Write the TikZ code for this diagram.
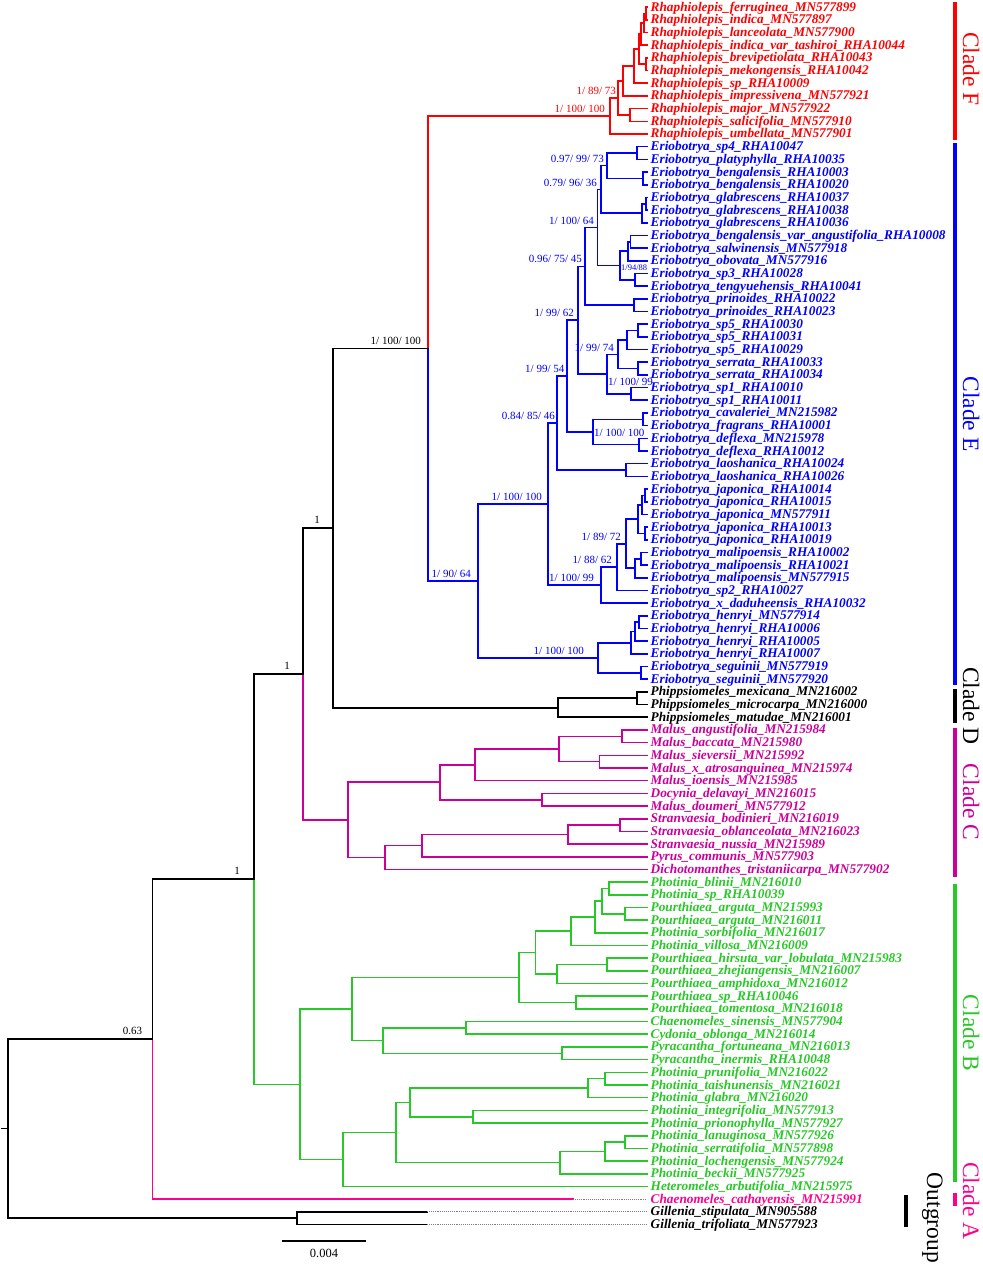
\documentclass[tikz,border=0pt]{standalone}
\usepackage{fontspec}
\setmainfont{Liberation Serif}
\usetikzlibrary{calc}

\definecolor{colF}{RGB}{255,0,0}
\definecolor{colE}{RGB}{0,0,255}
\definecolor{colC}{RGB}{204,0,153}
\definecolor{colB}{RGB}{40,200,40}
\definecolor{colA}{RGB}{255,0,140}

% internal node: name, x, upper child, lower child (y = middle of the children)
\newcommand{\junction}[4]{%
  \coordinate (#1m) at ($(#3)!.5!(#4)$);
  \coordinate (#1) at (#2,0 |- #1m);}
\newcommand{\clade}[5][black]{%
  \junction{#2}{#3}{#4}{#5}
  \draw[branch,#1] (#2) |- (#4);
  \draw[branch,#1] (#2) |- (#5);}

\tikzset{
  branch/.style={line width=1.6pt, line cap=rect},
  dots/.style={densely dotted, line width=0.9pt, gray},
  bar/.style={line width=4.5pt},
  leaf/.style={anchor=west, inner xsep=3.5pt, inner ysep=0pt, text height=10pt, text depth=2pt,
    font=\fontsize{13.3}{14}\selectfont\bfseries\itshape},
  sup/.style={anchor=south east, inner sep=1pt, yshift=2pt, font=\fontsize{11}{12}\selectfont},
  supr/.style={anchor=west, inner sep=1pt, font=\fontsize{11}{12}\selectfont},
  cladelab/.style={rotate=-90, anchor=base, inner sep=0pt, font=\fontsize{23.5}{24}\selectfont}
}

\begin{document}
\begin{tikzpicture}[x=1pt, y=-1pt]
\useasboundingbox (0,0) rectangle (982,1265);

% tips
\node[leaf,text=colF] (t0) at (647,7.20) {Rhaphiolepis\_ferruginea\_MN577899};
\node[leaf,text=colF] (t1) at (647,19.88) {Rhaphiolepis\_indica\_MN577897};
\node[leaf,text=colF] (t2) at (647,32.56) {Rhaphiolepis\_lanceolata\_MN577900};
\node[leaf,text=colF] (t3) at (647,45.24) {Rhaphiolepis\_indica\_var\_tashiroi\_RHA10044};
\node[leaf,text=colF] (t4) at (647,57.92) {Rhaphiolepis\_brevipetiolata\_RHA10043};
\node[leaf,text=colF] (t5) at (647,70.60) {Rhaphiolepis\_mekongensis\_RHA10042};
\node[leaf,text=colF] (t6) at (647,83.28) {Rhaphiolepis\_sp\_RHA10009};
\node[leaf,text=colF] (t7) at (647,95.96) {Rhaphiolepis\_impressivena\_MN577921};
\node[leaf,text=colF] (t8) at (647,108.64) {Rhaphiolepis\_major\_MN577922};
\node[leaf,text=colF] (t9) at (647,121.32) {Rhaphiolepis\_salicifolia\_MN577910};
\node[leaf,text=colF] (t10) at (647,134.00) {Rhaphiolepis\_umbellata\_MN577901};
\node[leaf,text=colE] (t11) at (647,146.68) {Eriobotrya\_sp4\_RHA10047};
\node[leaf,text=colE] (t12) at (647,159.36) {Eriobotrya\_platyphylla\_RHA10035};
\node[leaf,text=colE] (t13) at (647,172.04) {Eriobotrya\_bengalensis\_RHA10003};
\node[leaf,text=colE] (t14) at (647,184.72) {Eriobotrya\_bengalensis\_RHA10020};
\node[leaf,text=colE] (t15) at (647,197.40) {Eriobotrya\_glabrescens\_RHA10037};
\node[leaf,text=colE] (t16) at (647,210.08) {Eriobotrya\_glabrescens\_RHA10038};
\node[leaf,text=colE] (t17) at (647,222.76) {Eriobotrya\_glabrescens\_RHA10036};
\node[leaf,text=colE] (t18) at (647,235.44) {Eriobotrya\_bengalensis\_var\_angustifolia\_RHA10008};
\node[leaf,text=colE] (t19) at (647,248.12) {Eriobotrya\_salwinensis\_MN577918};
\node[leaf,text=colE] (t20) at (647,260.80) {Eriobotrya\_obovata\_MN577916};
\node[leaf,text=colE] (t21) at (647,273.48) {Eriobotrya\_sp3\_RHA10028};
\node[leaf,text=colE] (t22) at (647,286.16) {Eriobotrya\_tengyuehensis\_RHA10041};
\node[leaf,text=colE] (t23) at (647,298.84) {Eriobotrya\_prinoides\_RHA10022};
\node[leaf,text=colE] (t24) at (647,311.52) {Eriobotrya\_prinoides\_RHA10023};
\node[leaf,text=colE] (t25) at (647,324.20) {Eriobotrya\_sp5\_RHA10030};
\node[leaf,text=colE] (t26) at (647,336.88) {Eriobotrya\_sp5\_RHA10031};
\node[leaf,text=colE] (t27) at (647,349.56) {Eriobotrya\_sp5\_RHA10029};
\node[leaf,text=colE] (t28) at (647,362.24) {Eriobotrya\_serrata\_RHA10033};
\node[leaf,text=colE] (t29) at (647,374.92) {Eriobotrya\_serrata\_RHA10034};
\node[leaf,text=colE] (t30) at (647,387.60) {Eriobotrya\_sp1\_RHA10010};
\node[leaf,text=colE] (t31) at (647,400.28) {Eriobotrya\_sp1\_RHA10011};
\node[leaf,text=colE] (t32) at (647,412.96) {Eriobotrya\_cavaleriei\_MN215982};
\node[leaf,text=colE] (t33) at (647,425.64) {Eriobotrya\_fragrans\_RHA10001};
\node[leaf,text=colE] (t34) at (647,438.32) {Eriobotrya\_deflexa\_MN215978};
\node[leaf,text=colE] (t35) at (647,451.00) {Eriobotrya\_deflexa\_RHA10012};
\node[leaf,text=colE] (t36) at (647,463.68) {Eriobotrya\_laoshanica\_RHA10024};
\node[leaf,text=colE] (t37) at (647,476.36) {Eriobotrya\_laoshanica\_RHA10026};
\node[leaf,text=colE] (t38) at (647,489.04) {Eriobotrya\_japonica\_RHA10014};
\node[leaf,text=colE] (t39) at (647,501.72) {Eriobotrya\_japonica\_RHA10015};
\node[leaf,text=colE] (t40) at (647,514.40) {Eriobotrya\_japonica\_MN577911};
\node[leaf,text=colE] (t41) at (647,527.08) {Eriobotrya\_japonica\_RHA10013};
\node[leaf,text=colE] (t42) at (647,539.76) {Eriobotrya\_japonica\_RHA10019};
\node[leaf,text=colE] (t43) at (647,552.44) {Eriobotrya\_malipoensis\_RHA10002};
\node[leaf,text=colE] (t44) at (647,565.12) {Eriobotrya\_malipoensis\_RHA10021};
\node[leaf,text=colE] (t45) at (647,577.80) {Eriobotrya\_malipoensis\_MN577915};
\node[leaf,text=colE] (t46) at (647,590.48) {Eriobotrya\_sp2\_RHA10027};
\node[leaf,text=colE] (t47) at (647,603.16) {Eriobotrya\_x\_daduheensis\_RHA10032};
\node[leaf,text=colE] (t48) at (647,615.84) {Eriobotrya\_henryi\_MN577914};
\node[leaf,text=colE] (t49) at (647,628.52) {Eriobotrya\_henryi\_RHA10006};
\node[leaf,text=colE] (t50) at (647,641.20) {Eriobotrya\_henryi\_RHA10005};
\node[leaf,text=colE] (t51) at (647,653.88) {Eriobotrya\_henryi\_RHA10007};
\node[leaf,text=colE] (t52) at (647,666.56) {Eriobotrya\_seguinii\_MN577919};
\node[leaf,text=colE] (t53) at (647,679.24) {Eriobotrya\_seguinii\_MN577920};
\node[leaf] (t54) at (647,691.92) {Phippsiomeles\_mexicana\_MN216002};
\node[leaf] (t55) at (647,704.60) {Phippsiomeles\_microcarpa\_MN216000};
\node[leaf] (t56) at (647,717.28) {Phippsiomeles\_matudae\_MN216001};
\node[leaf,text=colC] (t57) at (647,729.96) {Malus\_angustifolia\_MN215984};
\node[leaf,text=colC] (t58) at (647,742.64) {Malus\_baccata\_MN215980};
\node[leaf,text=colC] (t59) at (647,755.32) {Malus\_sieversii\_MN215992};
\node[leaf,text=colC] (t60) at (647,768.00) {Malus\_x\_atrosanguinea\_MN215974};
\node[leaf,text=colC] (t61) at (647,780.68) {Malus\_ioensis\_MN215985};
\node[leaf,text=colC] (t62) at (647,793.36) {Docynia\_delavayi\_MN216015};
\node[leaf,text=colC] (t63) at (647,806.04) {Malus\_doumeri\_MN577912};
\node[leaf,text=colC] (t64) at (647,818.72) {Stranvaesia\_bodinieri\_MN216019};
\node[leaf,text=colC] (t65) at (647,831.40) {Stranvaesia\_oblanceolata\_MN216023};
\node[leaf,text=colC] (t66) at (647,844.08) {Stranvaesia\_nussia\_MN215989};
\node[leaf,text=colC] (t67) at (647,856.76) {Pyrus\_communis\_MN577903};
\node[leaf,text=colC] (t68) at (647,869.44) {Dichotomanthes\_tristaniicarpa\_MN577902};
\node[leaf,text=colB] (t69) at (647,882.12) {Photinia\_blinii\_MN216010};
\node[leaf,text=colB] (t70) at (647,894.80) {Photinia\_sp\_RHA10039};
\node[leaf,text=colB] (t71) at (647,907.48) {Pourthiaea\_arguta\_MN215993};
\node[leaf,text=colB] (t72) at (647,920.16) {Pourthiaea\_arguta\_MN216011};
\node[leaf,text=colB] (t73) at (647,932.84) {Photinia\_sorbifolia\_MN216017};
\node[leaf,text=colB] (t74) at (647,945.52) {Photinia\_villosa\_MN216009};
\node[leaf,text=colB] (t75) at (647,958.20) {Pourthiaea\_hirsuta\_var\_lobulata\_MN215983};
\node[leaf,text=colB] (t76) at (647,970.88) {Pourthiaea\_zhejiangensis\_MN216007};
\node[leaf,text=colB] (t77) at (647,983.56) {Pourthiaea\_amphidoxa\_MN216012};
\node[leaf,text=colB] (t78) at (647,996.24) {Pourthiaea\_sp\_RHA10046};
\node[leaf,text=colB] (t79) at (647,1008.92) {Pourthiaea\_tomentosa\_MN216018};
\node[leaf,text=colB] (t80) at (647,1021.60) {Chaenomeles\_sinensis\_MN577904};
\node[leaf,text=colB] (t81) at (647,1034.28) {Cydonia\_oblonga\_MN216014};
\node[leaf,text=colB] (t82) at (647,1046.96) {Pyracantha\_fortuneana\_MN216013};
\node[leaf,text=colB] (t83) at (647,1059.64) {Pyracantha\_inermis\_RHA10048};
\node[leaf,text=colB] (t84) at (647,1072.32) {Photinia\_prunifolia\_MN216022};
\node[leaf,text=colB] (t85) at (647,1085.00) {Photinia\_taishunensis\_MN216021};
\node[leaf,text=colB] (t86) at (647,1097.68) {Photinia\_glabra\_MN216020};
\node[leaf,text=colB] (t87) at (647,1110.36) {Photinia\_integrifolia\_MN577913};
\node[leaf,text=colB] (t88) at (647,1123.04) {Photinia\_prionophylla\_MN577927};
\node[leaf,text=colB] (t89) at (647,1135.72) {Photinia\_lanuginosa\_MN577926};
\node[leaf,text=colB] (t90) at (647,1148.40) {Photinia\_serratifolia\_MN577898};
\node[leaf,text=colB] (t91) at (647,1161.08) {Photinia\_lochengensis\_MN577924};
\node[leaf,text=colB] (t92) at (647,1173.76) {Photinia\_beckii\_MN577925};
\node[leaf,text=colB] (t93) at (647,1186.44) {Heteromeles\_arbutifolia\_MN215975};
\node[leaf,text=colA] (t94) at (647,1199.12) {Chaenomeles\_cathayensis\_MN215991};
\node[leaf] (t95) at (647,1211.80) {Gillenia\_stipulata\_MN905588};
\node[leaf] (t96) at (647,1224.48) {Gillenia\_trifoliata\_MN577923};

% clade F
\clade[colF]{fA}{646}{t0}{t1}
\clade[colF]{fB}{644}{fA}{t2}
\clade[colF]{fC}{641}{fB}{t3}
\clade[colF]{fD}{646}{t4}{t5}
\clade[colF]{fE}{639}{fC}{fD}
\clade[colF]{fG}{634}{fE}{t6}
\clade[colF]{fH}{623}{fG}{t7}
\clade[colF]{fI}{630}{t8}{t9}
\clade[colF]{fJ}{618}{fH}{fI}
\clade[colF]{nF}{610}{fJ}{t10}

% clade E
\clade[colE]{eA}{637}{t11}{t12}
\clade[colE]{eB}{643}{t13}{t14}
\clade[colE]{eC}{607}{eA}{eB}
\clade[colE]{eD}{646}{t15}{t16}
\clade[colE]{eG}{642}{eD}{t17}
\clade[colE]{eH}{601}{eC}{eG}
\clade[colE]{eI}{630.5}{t18}{t19}
\clade[colE]{eJ}{628}{eI}{t20}
\clade[colE]{eK}{635}{t21}{t22}
\clade[colE]{eL}{620}{eJ}{eK}
\clade[colE]{eM}{597.5}{eH}{eL}
\clade[colE]{eN}{634}{t23}{t24}
\clade[colE]{eO}{585}{eM}{eN}
\clade[colE]{eP}{638}{t25}{t26}
\clade[colE]{eQ}{627}{eP}{t27}
\clade[colE]{eR}{638}{t28}{t29}
\clade[colE]{eS}{618}{eQ}{eR}
\clade[colE]{eT}{631}{t30}{t31}
\clade[colE]{eU}{607}{eS}{eT}
\clade[colE]{eV}{578}{eO}{eU}
\clade[colE]{eW}{643}{t32}{t33}
\clade[colE]{eX}{639}{t34}{t35}
\clade[colE]{eY}{593}{eW}{eX}
\clade[colE]{eZ}{567}{eV}{eY}
\clade[colE]{eLa}{626}{t36}{t37}
\clade[colE]{eAa}{557}{eZ}{eLa}
\clade[colE]{jA}{645}{t38}{t39}
\clade[colE]{jB}{642}{jA}{t40}
\clade[colE]{jC}{645}{t41}{t42}
\clade[colE]{jD}{638}{jB}{jC}
\clade[colE]{mA}{641}{t43}{t44}
\clade[colE]{mB}{635}{mA}{t45}
\clade[colE]{jE}{626}{jD}{mB}
\clade[colE]{jF}{617}{jE}{t46}
\clade[colE]{jG}{601}{jF}{t47}
\clade[colE]{eBb}{548}{eAa}{jG}
\clade[colE]{hA}{639}{t48}{t49}
\clade[colE]{hB}{635}{hA}{t50}
\clade[colE]{hC}{631}{hB}{t51}
\clade[colE]{hD}{641}{t52}{t53}
\clade[colE]{hE}{598}{hC}{hD}
\clade[colE]{nE}{478}{eBb}{hE}

% clade D
\clade{dA}{637}{t54}{t55}
\clade{nD}{558}{dA}{t56}

% clade C
\clade[colC]{cA}{622}{t57}{t58}
\clade[colC]{cB}{599.5}{t59}{t60}
\clade[colC]{cD}{559}{cA}{cB}
\clade[colC]{cE}{475}{cD}{t61}
\clade[colC]{cF}{542}{t62}{t63}
\clade[colC]{cG}{440}{cE}{cF}
\clade[colC]{cH}{620}{t64}{t65}
\clade[colC]{cI}{568}{cH}{t66}
\clade[colC]{cJ}{422}{cI}{t67}
\clade[colC]{cK}{385}{cJ}{t68}
\clade[colC]{nC}{348}{cG}{cK}

% clade B
\clade[colB]{bA}{609}{t69}{t70}
\clade[colB]{bB}{625}{t71}{t72}
\clade[colB]{bC}{602}{bA}{bB}
\clade[colB]{bD}{595}{bC}{t73}
\clade[colB]{bE}{571}{bD}{t74}
\clade[colB]{bF}{607}{t75}{t76}
\clade[colB]{bG}{557}{bF}{t77}
\clade[colB]{bH}{535.5}{bE}{bG}
\clade[colB]{bI}{576}{t78}{t79}
\clade[colB]{bJ}{519}{bH}{bI}
\clade[colB]{bK}{466}{t80}{t81}
\clade[colB]{bL}{562}{t82}{t83}
\clade[colB]{bM}{383}{bK}{bL}
\clade[colB]{bN}{352}{bJ}{bM}
\clade[colB]{bO}{605}{t84}{t85}
\clade[colB]{bP}{588}{bO}{t86}
\clade[colB]{bQ}{473}{t87}{t88}
\clade[colB]{bR}{410}{bP}{bQ}
\clade[colB]{bS}{625}{t89}{t90}
\clade[colB]{bT}{605}{bS}{t91}
\clade[colB]{bU}{560}{bT}{t92}
\clade[colB]{bV}{396}{bR}{bU}
\clade[colB]{bW}{343}{bV}{t93}
\clade[colB]{nB}{300}{bN}{bW}

% backbone
\junction{nEF}{428}{nF}{nE}
\draw[branch,colF] (nEF) |- (nF);
\draw[branch,colE] (nEF) |- (nE);
\junction{nDEF}{333}{nEF}{nD}
\draw[branch] (nDEF) |- (nEF);
\draw[branch] (nDEF) |- (nD);
\junction{nCDEF}{303}{nDEF}{nC}
\draw[branch] (nCDEF) |- (nDEF);
\draw[branch,colC] (nCDEF) |- (nC);
\junction{nBC}{254}{nCDEF}{nB}
\draw[branch] (nBC) |- (nCDEF);
\draw[branch,colB] (nBC) |- (nB);
\coordinate (aEnd) at (573,0 |- t94);
\junction{nA}{152.3}{nBC}{t94}
\draw[branch] (nA) |- (nBC);
\draw[branch,colA] (nA) |- (aEnd);
\draw[dots] (aEnd) -- (t94);
\coordinate (oEnd1) at (427,0 |- t95);
\coordinate (oEnd2) at (427,0 |- t96);
\junction{nOut}{296.7}{t95}{t96}
\draw[branch] (nOut) |- (oEnd1);
\draw[branch] (nOut) |- (oEnd2);
\draw[dots] (oEnd1) -- (t95);
\draw[dots] (oEnd2) -- (t96);
\junction{root}{8}{nA}{nOut}
\draw[branch] (root) |- (nA);
\draw[branch] (root) |- (nOut);
\coordinate (stub) at (1.5,0 |- root);
\draw[branch] (stub) -- (root);

% support values
\node[sup,text=colF,xshift=-1pt] (sFJ) at (fJ) {1/ 89/ 73};
\node[sup,text=colF,xshift=-4pt] (sF) at (nF) {1/ 100/ 100};
\node[sup,xshift=-6pt,yshift=1pt] (sEF) at (nEF) {1/ 100/ 100};
\node[sup,xshift=-12pt,yshift=1.5pt] (sDEF) at (nDEF) {1};
\node[sup,xshift=-12pt,yshift=1.5pt] (sCDEF) at (nCDEF) {1};
\node[sup,xshift=-13pt,yshift=1.5pt] (sBC) at (nBC) {1};
\node[sup,xshift=-9pt,yshift=1.5pt] (sA) at (nA) {0.63};
\node[sup,text=colE,xshift=-2pt] (sEC) at (eC) {0.97/ 99/ 73};
\node[sup,text=colE,xshift=-3pt] (sEH) at (eH) {0.79/ 96/ 36};
\node[sup,text=colE,xshift=-2.5pt] (sEM) at (eM) {1/ 100/ 64};
\node[supr,text=colE,font=\fontsize{8.5}{9}\selectfont,yshift=-1.7pt] (sEL) at (eL) {1/94/88};
\node[sup,text=colE,xshift=-2pt] (sEO) at (eO) {0.96/ 75/ 45};
\node[sup,text=colE,xshift=-3pt] (sEV) at (eV) {1/ 99/ 62};
\node[sup,text=colE,xshift=-3pt] (sES) at (eS) {1/ 99/ 74};
\node[supr,text=colE,yshift=-7.6pt] (sEU) at (eU) {1/ 100/ 99};
\node[supr,text=colE,yshift=-1.3pt] (sEY) at (eY) {1/ 100/ 100};
\node[sup,text=colE,xshift=-1.5pt] (sEZ) at (eZ) {1/ 99/ 54};
\node[sup,text=colE,xshift=-1pt] (sEAa) at (eAa) {0.84/ 85/ 46};
\node[sup,text=colE,xshift=-5pt] (sEBb) at (eBb) {1/ 100/ 100};
\node[sup,text=colE,xshift=-4pt] (sJE) at (jE) {1/ 89/ 72};
\node[sup,text=colE,xshift=-4pt] (sJF) at (jF) {1/ 88/ 62};
\node[sup,text=colE,xshift=-6pt] (sJG) at (jG) {1/ 100/ 99};
\node[sup,text=colE,xshift=-13pt] (sHE) at (hE) {1/ 100/ 100};
\node[sup,text=colE,xshift=-6pt] (sE) at (nE) {1/ 90/ 64};

% clade bars
\draw[bar,colF] (955,2) -- (955,140);
\draw[bar,colE] (955,143) -- (955,685);
\draw[bar] (955,689) -- (955,723);
\draw[bar,colC] (955,728) -- (955,877);
\draw[bar,colB] (955,884) -- (955,1182);
\draw[bar,colA] (955,1193) -- (955,1206);
\draw[bar] (906,1195) -- (906,1227);
\node[cladelab,text=colF] (labF) at (963,69) {Clade F};
\node[cladelab,text=colE] (labE) at (963,414) {Clade E};
\node[cladelab] (labD) at (963,706) {Clade D};
\node[cladelab,text=colC] (labC) at (963,802) {Clade C};
\node[cladelab,text=colB] (labB) at (963,1033) {Clade B};
\node[cladelab,text=colA] (labA) at (963,1201) {Clade A};
\node[cladelab] (labOut) at (927,1218) {Outgroup};

% scale bar
\coordinate (sb1) at (283,1241);
\coordinate (sb2) at (365,1241);
\draw[branch] (sb1) -- (sb2);
\node[font=\fontsize{12.5}{13}\selectfont, inner sep=0pt] (sbl) at (324,1253) {0.004};
\end{tikzpicture}
\end{document}
